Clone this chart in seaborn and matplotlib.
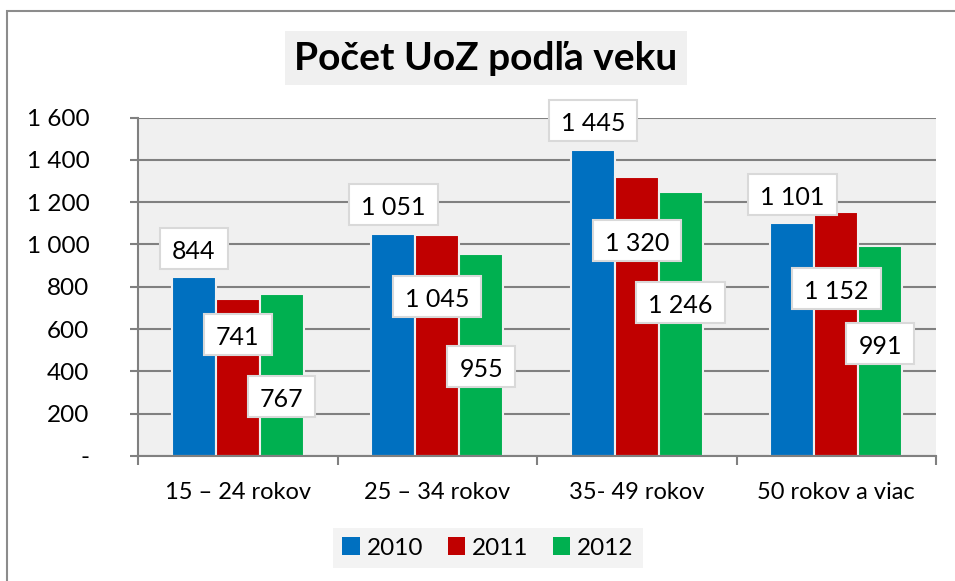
import matplotlib
matplotlib.use("Agg")
import matplotlib.pyplot as plt
import seaborn as sns
import numpy as np
import pandas as pd
from matplotlib.patches import Rectangle, Patch
from matplotlib.ticker import FuncFormatter, FixedLocator

# data
categories = ["15 – 24 rokov", "25 – 34 rokov", "35- 49 rokov", "50 rokov a viac"]
years = ["2010", "2011", "2012"]
values_2010 = [844, 1051, 1445, 1101]
values_2011 = [741, 1045, 1320, 1152]
values_2012 = [767, 955, 1246, 991]

# kde stoja stitky (v jednotkach osi y)
label_pos = {
    "2010": [974, 1183, 1579, 1229],
    "2011": [568, 747, 1012, 789],
    "2012": [275, 416, 719, 529],
}

colors = ["#0070C0", "#C00000", "#00B050"]
bg = "#f0f0f0"
grid_col = "#808080"

df = pd.DataFrame({
    "vek": categories * 3,
    "rok": [y for y in years for _ in categories],
    "pocet": values_2010 + values_2011 + values_2012,
})

sns.set_style("white")
plt.rcParams["font.family"] = ["Lato", "DejaVu Sans"]
plt.rcParams["text.color"] = "black"
plt.rcParams["xtick.color"] = "black"
plt.rcParams["ytick.color"] = "black"

fig = plt.figure(figsize=(9.55, 5.81), dpi=100)
ax = fig.add_axes([138 / 955, 1 - 456 / 581, (936 - 138) / 955, (456 - 117.5) / 581])
ax.set_facecolor(bg)

sns.barplot(data=df, x="vek", y="pocet", hue="rok", palette=colors, saturation=1,
            width=0.66, edgecolor=bg, linewidth=1.5, legend=False, ax=ax)

ax.set_xlim(-0.5, 3.5)
ax.set_ylim(0, 1600)
ax.set_yticks(np.arange(0, 1601, 200))
ax.yaxis.set_major_formatter(FuncFormatter(
    lambda v, p: "-" if v == 0 else f"{int(v):,}".replace(",", " ")))
ax.yaxis.grid(True, color=grid_col, linewidth=1.5)
ax.set_axisbelow(True)

for s in ["top", "right"]:
    ax.spines[s].set_visible(False)
for s in ["left", "bottom"]:
    ax.spines[s].set_color(grid_col)
    ax.spines[s].set_linewidth(1.5)

ax.tick_params(axis="y", which="major", length=6, width=1.5, color=grid_col,
               direction="out", pad=29, labelsize=17.5, labelcolor="black", left=True)
ax.xaxis.set_minor_locator(FixedLocator([-0.5, 0.5, 1.5, 2.5, 3.5]))
ax.tick_params(axis="x", which="major", length=0, pad=19, labelsize=17,
               labelcolor="black")
ax.tick_params(axis="x", which="minor", length=6.5, width=1.5, color=grid_col,
               direction="out", bottom=True)
ax.set_xlabel("")
ax.set_ylabel("")

# stitky s hodnotami v bielych ramcekoch
n = len(years)
bw = 0.66 / n
texts = []
for j, (yr, vals) in enumerate(zip(years, [values_2010, values_2011, values_2012])):
    for i, v in enumerate(vals):
        x = i - 0.33 + bw * (j + 0.5)
        t = ax.text(x, label_pos[yr][i], f"{v:,}".replace(",", " "),
                    ha="center", va="center_baseline", fontsize=18, zorder=6)
        texts.append((t, x, label_pos[yr][i]))

fig.canvas.draw()
r = fig.canvas.get_renderer()
inv = ax.transData.inverted()
for t, x, y in texts:
    w = t.get_window_extent(r).width + 24
    h = 41
    cx, cy = ax.transData.transform((x, y))
    cy += 1
    (x0, y0) = inv.transform((cx - w / 2, cy - h / 2))
    (x1, y1) = inv.transform((cx + w / 2, cy + h / 2))
    ax.add_patch(Rectangle((x0, y0), x1 - x0, y1 - y0, facecolor="white",
                           edgecolor="#d9d9d9", linewidth=1.5, zorder=5,
                           clip_on=False))

# titulok
fig.text(486 / 955, 1 - 58 / 581, "Počet UoZ podľa veku", ha="center",
         va="center", fontsize=28, fontweight="bold", color="black",
         bbox=dict(boxstyle="square,pad=0.25", facecolor=bg, edgecolor="none"))

# legenda
handles = [Patch(facecolor=c, edgecolor="none") for c in colors]
leg = fig.legend(handles, years, loc="center", ncol=3,
                 bbox_to_anchor=(488 / 955, 1 - 548 / 581), fontsize=17.5,
                 frameon=True, fancybox=False, handlelength=0.7, handleheight=0.7,
                 handletextpad=0.3, columnspacing=1.0, borderpad=0.4)
leg.get_frame().set_facecolor(bg)
leg.get_frame().set_edgecolor("none")

# okraj grafu
fig.patches.append(Rectangle((7 / 955, -0.1), 1.2, 1 - 11 / 581 + 0.1,
                             transform=fig.transFigure, fill=False,
                             edgecolor="#8c8c8c", linewidth=1.5))

fig.savefig("out.png", dpi=100)
